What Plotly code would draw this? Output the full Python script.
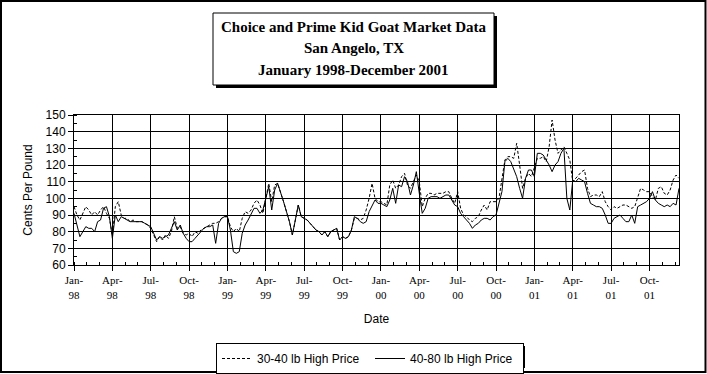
import plotly.graph_objects as go
import pandas as pd

# ---- data (weekly, Jan 1998 - Dec 2001), cents per pound ----
start_date = "1998-01-02"
n_weeks = 206

price_30_40 = [
    95, 90, 87, 91, 95, 93, 90, 92, 90, 93, 95, 91, 88,
    78, 95, 98, 90, 88, 88, 86, 87, 86, 86, 86, 85, 84,
    82, 78, 74, 77, 75, 78, 76, 80, 89, 82, 83, 79, 78,
    79, 77, 80, 79, 81, 82, 83, 84, 85, 85, 86, 88, 89,
    89, 83, 80, 82, 80, 88, 92, 91, 93, 97, 99, 96, 91,
    99, 109, 98, 108, 109, 104, 98, 92, 86, 78, 86, 96, 89,
    88, 87, 85, 83, 81, 80, 78, 80, 77, 80, 81, 82, 75,
    77, 76, 77, 81, 88, 88, 87, 88, 93, 100, 109, 100, 98,
    98, 97, 96, 108, 111, 106, 108, 113, 115, 108, 106, 110, 114,
    110, 95, 100, 103, 103, 102, 103, 103, 103, 104, 104, 100, 97,
    104, 94, 90, 89, 87, 86, 88, 89, 93, 96, 93, 98, 98,
    98, 100, 111, 123, 125, 125, 124, 133, 120, 106, 112, 115, 113,
    118, 124, 124, 125, 122, 131, 147, 135, 127, 129, 131, 127, 123,
    110, 112, 114, 116, 117, 106, 101, 102, 102, 101, 104, 98, 95,
    93, 95, 94, 95, 96, 96, 95, 94, 95, 100, 106, 105, 104,
    104, 101, 99, 106, 107, 103, 102, 105, 111, 114, 112,
]

price_40_80 = [
    91, 84, 77, 80, 83, 82, 82, 80, 86, 87, 94, 95, 89,
    76, 90, 86, 89, 88, 87, 86, 86, 86, 86, 86, 85, 84,
    83, 79, 75, 77, 76, 77, 78, 82, 86, 81, 84, 79, 76,
    74, 74, 76, 78, 80, 82, 83, 83, 84, 73, 85, 88, 89,
    89, 81, 68, 67, 68, 79, 84, 87, 91, 94, 94, 91, 93,
    101, 107, 93, 105, 109, 104, 98, 92, 86, 78, 86, 96, 89,
    88, 87, 85, 83, 81, 80, 78, 80, 77, 80, 81, 82, 75,
    77, 76, 77, 81, 89, 88, 86, 85, 86, 92, 96, 99, 97,
    97, 96, 95, 99, 106, 97, 108, 107, 113, 110, 102, 108, 116,
    103, 91, 94, 100, 101, 101, 101, 100, 101, 102, 102, 99, 96,
    95, 91, 89, 87, 85, 82, 84, 85, 87, 88, 88, 87, 89,
    90, 97, 104, 122, 124, 122, 117, 113, 106, 100, 112, 117, 117,
    113, 127, 127, 126, 123, 120, 116, 120, 122, 127, 130, 100, 93,
    111, 110, 112, 111, 110, 103, 97, 96, 95, 95, 94, 90, 85,
    85, 88, 89, 90, 88, 86, 86, 90, 85, 95, 96, 97, 98,
    100, 104, 99, 97, 96, 95, 96, 95, 97, 96, 106,
]

tick_labels = [
    "Jan-<br>98", "Apr-<br>98", "Jul-<br>98", "Oct-<br>98",
    "Jan-<br>99", "Apr-<br>99", "Jul-<br>99", "Oct-<br>99",
    "Jan-<br>00", "Apr-<br>00", "Jul-<br>00", "Oct-<br>00",
    "Jan-<br>01", "Apr-<br>01", "Jul-<br>01", "Oct-<br>01",
]
title_lines = [
    "Choice and Prime Kid Goat Market Data",
    "San Angelo, TX",
    "January 1998-December 2001",
]

dates = pd.date_range(start_date, periods=n_weeks, freq="7D")
tick_dates = list(dates[::13])

W, H = 707, 374
L, R, T, B = 74, 28, 115, 109
PW, PH = W - L - R, H - T - B


def px(x):
    return (x - L) / PW


def py(y):
    return (H - B - y) / PH


fig = go.Figure()
fig.add_trace(go.Scatter(
    x=dates, y=price_30_40, mode="lines", name="30-40 lb High Price",
    line=dict(color="black", width=1, dash="3px,2px"),
))
fig.add_trace(go.Scatter(
    x=dates, y=price_40_80, mode="lines", name="40-80 lb High Price",
    line=dict(color="black", width=1),
))

sans = "Liberation Sans, Arial, sans-serif"
serif = "Liberation Serif, Times New Roman, serif"

LEG_X, LEG_Y = 216, 343
fig.update_layout(
    width=W, height=H,
    margin=dict(l=L, r=R, t=T, b=B, autoexpand=False),
    paper_bgcolor="white", plot_bgcolor="white",
    showlegend=True,
    legend=dict(
        orientation="h", xref="container", yref="container",
        x=LEG_X / W, y=1 - LEG_Y / H, xanchor="left", yanchor="top",
        bgcolor="white", bordercolor="black", borderwidth=1,
        font=dict(family=sans, size=12, color="black"),
        itemwidth=30, tracegroupgap=0,
        entrywidth=108, entrywidthmode="pixels",
    ),
)

fig.update_xaxes(
    range=[dates[0], dates[-1]], automargin=False,
    tickmode="array", tickvals=tick_dates, ticktext=tick_labels,
    showgrid=True, gridcolor="black", gridwidth=1,
    ticks="outside", ticklen=5, tickcolor="black", tickwidth=1,
    showline=True, linecolor="black", linewidth=1, mirror=True,
    zeroline=False,
    tickfont=dict(family=serif, size=11, color="black"),
    title=dict(text="Date", font=dict(family=sans, size=12, color="black"), standoff=15),
    minor=dict(ticks="inside", ticklen=3, tickcolor="black", showgrid=False,
               tick0=dates[0], dtick=13 * 7 * 86400000 / 3),
)
fig.update_yaxes(
    range=[60, 150], dtick=10, tick0=60, automargin=False,
    showgrid=True, gridcolor="black", gridwidth=1,
    ticks="outside", ticklen=5, tickcolor="black", tickwidth=1,
    showline=True, linecolor="black", linewidth=1, mirror=True,
    zeroline=False,
    tickfont=dict(family=sans, size=12, color="black"),
    title=dict(text="Cents Per Pound", font=dict(family=sans, size=12, color="black"), standoff=10),
    minor=dict(ticks="inside", ticklen=3, tickcolor="black", dtick=5, showgrid=False),
)

shapes = [
    # outer frame
    dict(type="rect", xref="paper", yref="paper", x0=px(1), x1=px(705.5), y0=py(372), y1=py(1),
         line=dict(color="black", width=2), fillcolor="rgba(0,0,0,0)", layer="above"),
    # title box shadow and box
    dict(type="rect", xref="paper", yref="paper", x0=px(216), x1=px(497), y0=py(88), y1=py(16),
         line=dict(width=0), fillcolor="black", layer="above"),
    dict(type="rect", xref="paper", yref="paper", x0=px(213), x1=px(494), y0=py(85), y1=py(13),
         line=dict(color="black", width=1), fillcolor="white", layer="above"),
    # legend shadow
    dict(type="rect", xref="paper", yref="paper", x0=px(219), x1=px(525), y0=py(368), y1=py(346),
         line=dict(width=0), fillcolor="black", layer="above"),
]
fig.update_layout(shapes=shapes)

for text, yc in zip(title_lines, [27, 48, 70]):
    fig.add_annotation(
        x=px(353.5), y=py(yc), xref="paper", yref="paper", showarrow=False,
        text="<b>" + text + "</b>", xanchor="center", yanchor="middle",
        font=dict(family=serif, size=15, color="black"),
    )

fig.write_html(
    "out.html",
    config={"displayModeBar": False},
    post_script="document.body.style.margin='0';document.body.style.overflow='hidden';",
)
